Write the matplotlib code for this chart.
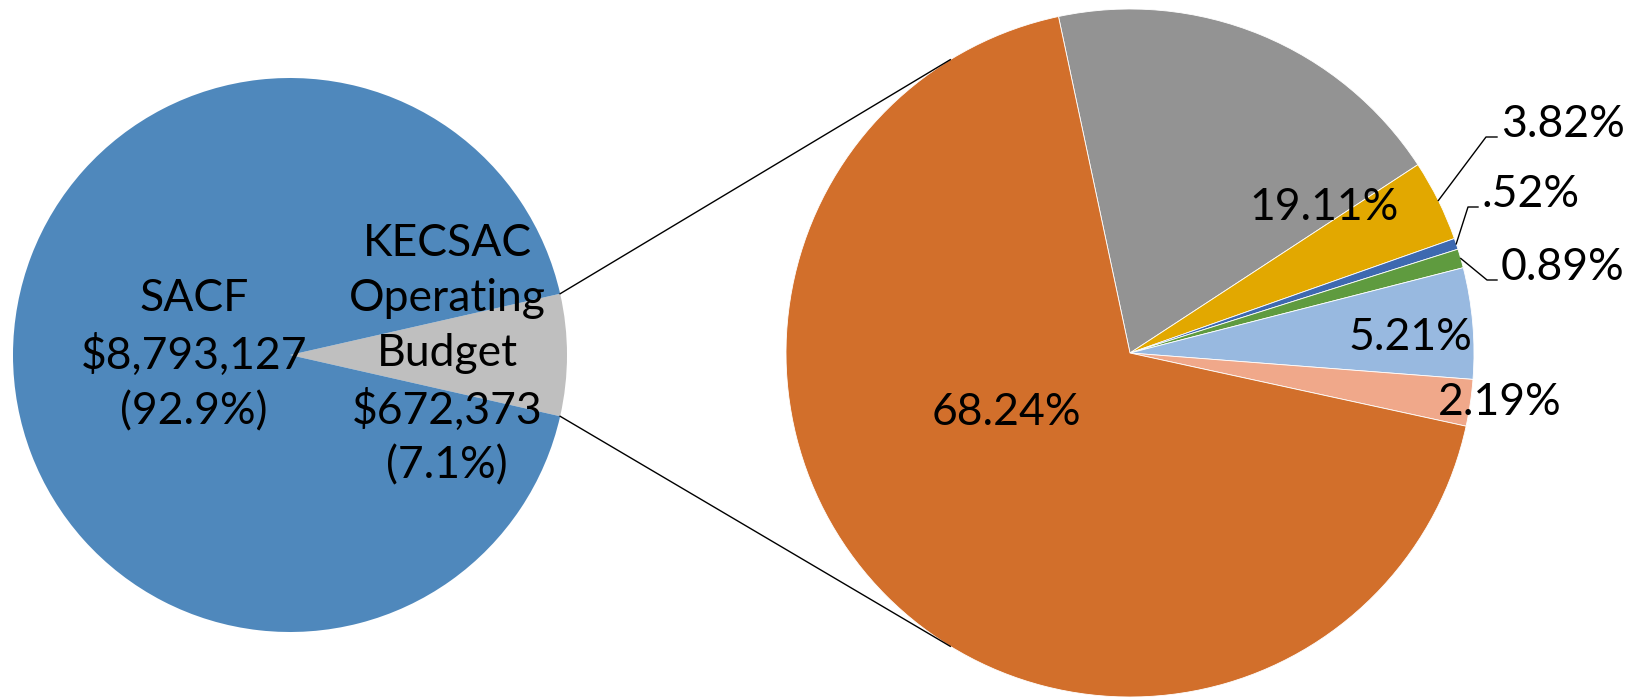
import numpy as np
import matplotlib
matplotlib.use("Agg")
import matplotlib.pyplot as plt

plt.rcParams['font.family'] = ['Lato', 'DejaVu Sans']

# ---- data ----
left_labels = ["KECSAC\nOperating\nBudget\n$672,373\n(7.1%)", "SACF\n$8,793,127\n(92.9%)"]
left_shares = [7.1, 92.9]
left_colors = ["#BFBFBF", "#4F88BC"]

right_labels = ["19.11%", "3.82%", ".52%", "0.89%", "5.21%", "2.19%", "68.24%"]
right_shares = [19.11, 3.82, 0.52, 0.89, 5.21, 2.19, 68.24]
right_colors = ["#939393", "#E2A800", "#3E69B0", "#5F9B3F", "#98B9E0", "#F0A88A", "#D26F2B"]

# ---- layout (pixel coords, y up) ----
W, H = 1631, 700
cL, rL = (290, H - 355), 277
cR, rR = (1130, H - 353), 344
start_R = 102.0
conn_angle = 121.5

fig = plt.figure(figsize=(W / 100, H / 100), dpi=100)
ax = fig.add_axes([0, 0, 1, 1])

half = left_shares[0] / sum(left_shares) * 360 / 2
ax.pie(left_shares, colors=left_colors, center=cL, radius=rL,
       startangle=-half, counterclock=True,
       wedgeprops=dict(linewidth=0))
ax.pie(right_shares, colors=right_colors, center=cR, radius=rR,
       startangle=start_R, counterclock=False,
       wedgeprops=dict(linewidth=0.6, edgecolor="white"))

fs = 32
# left labels
ax.text(447, H - 355, left_labels[0], ha="center", va="center", fontsize=fs,
        linespacing=1.42)
ax.text(194, H - 355, left_labels[1], ha="center", va="center", fontsize=fs,
        linespacing=1.42)

# connector lines between the pies
for s in (1, -1):
    a0 = np.deg2rad(s * half)
    a1 = np.deg2rad(s * conn_angle)
    ax.plot([cL[0] + rL * np.cos(a0), cR[0] + rR * np.cos(a1)],
            [cL[1] + rL * np.sin(a0), cR[1] + rR * np.sin(a1)],
            color="black", lw=1.0)

# right labels: inside ones at fixed spots, small ones with leader lines
inside_pos = {0: (1324, 208), 4: (1410, 338), 5: (1500, 403), 6: (1006, 413)}
for i, (x, y) in inside_pos.items():
    ax.text(x, H - y, right_labels[i], ha="center", va="center", fontsize=fs)

leader = {1: (1486, 137, 1497), 2: (1468, 207, 1478), 3: (1487, 280, 1497)}
cum = np.cumsum([0] + right_shares) / sum(right_shares) * 360
for i, (ex, ey, hx) in leader.items():
    mid = np.deg2rad(start_R - (cum[i] + cum[i + 1]) / 2)
    sx, sy = cR[0] + rR * np.cos(mid), cR[1] + rR * np.sin(mid)
    ax.plot([sx, ex, hx], [sy, H - ey, H - ey], color="black", lw=1.0)
    ax.text(hx + 4, H - ey, right_labels[i], ha="left", va="baseline", fontsize=fs)

ax.set_xlim(0, W)
ax.set_ylim(0, H)
ax.set_aspect("equal")
ax.axis("off")
fig.savefig("out.png", dpi=100)
